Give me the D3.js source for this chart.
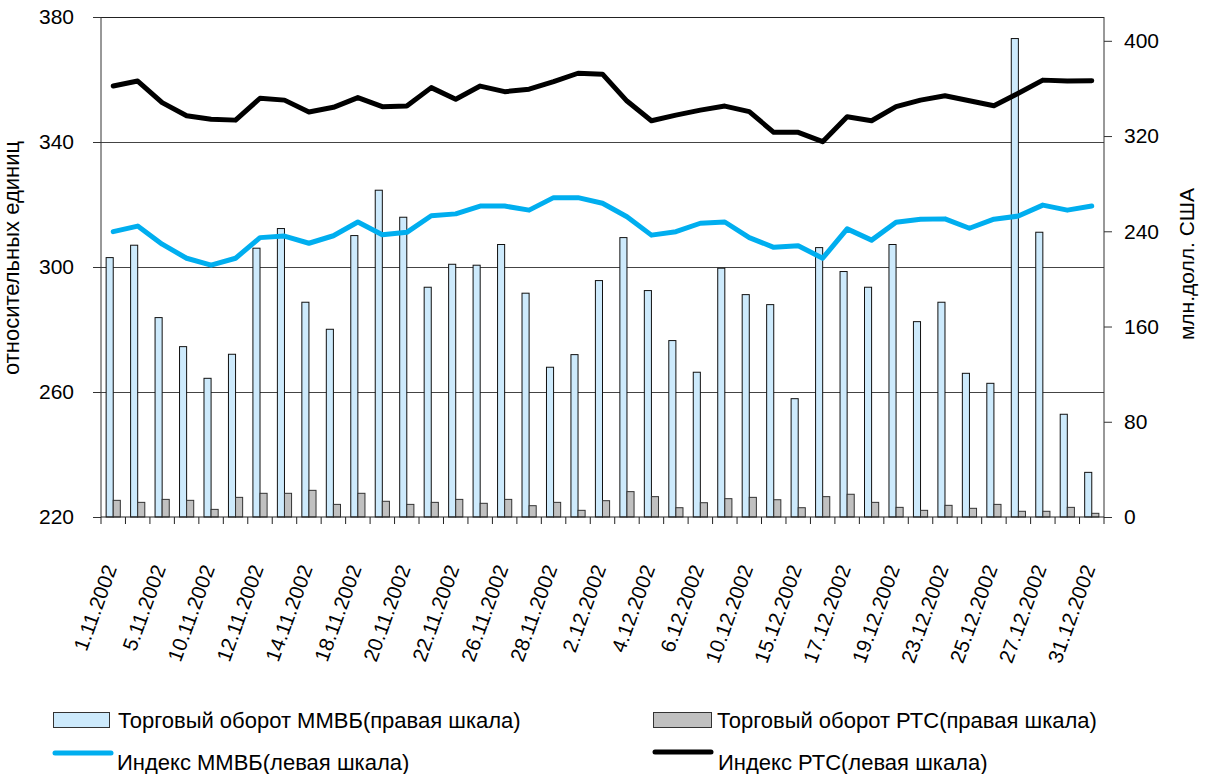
<!DOCTYPE html>
<html>
<head>
<meta charset="utf-8">
<script src="https://cdn.jsdelivr.net/npm/d3@7/dist/d3.min.js"></script>
<style>
  html, body { margin: 0; padding: 0; background: #fff; }
  svg text { font-family: "Liberation Sans", Arial, Helvetica, sans-serif; fill: #000; }
</style>
</head>
<body>
<svg id="chart" width="1205" height="774"></svg>
<script>
const dates = ["1.11.2002","4.11.2002","5.11.2002","6.11.2002","10.11.2002","11.11.2002","12.11.2002","13.11.2002","14.11.2002","15.11.2002",
  "18.11.2002","19.11.2002","20.11.2002","21.11.2002","22.11.2002","25.11.2002","26.11.2002","27.11.2002","28.11.2002","29.11.2002",
  "2.12.2002","3.12.2002","4.12.2002","5.12.2002","6.12.2002","9.12.2002","10.12.2002","11.12.2002","15.12.2002","16.12.2002",
  "17.12.2002","18.12.2002","19.12.2002","20.12.2002","23.12.2002","24.12.2002","25.12.2002","26.12.2002","27.12.2002","30.12.2002","31.12.2002"];

// Trading turnover, mln USD (right scale)
const mmvbTurnover = [217.9,228.3,167.5,143.1,116.5,136.7,225.8,242.3,180.4,157.7,
  236.4,274.5,251.8,193.0,212.3,211.5,228.9,188.0,125.8,136.4,
  198.6,234.7,190.2,148.2,121.6,209.0,186.8,178.4,99.4,226.3,
  206.2,193.0,228.9,164.1,180.4,120.7,112.3,401.9,239.2,86.3,37.5];
const rtsTurnover = [14.0,12.3,14.8,14.0,6.4,16.5,19.9,19.9,22.4,10.6,
  19.9,13.2,10.6,12.3,14.8,11.5,14.8,9.5,12.3,5.6,
  13.7,21.3,17.1,7.8,12.0,15.4,16.5,14.5,7.8,17.1,
  19.1,12.3,8.1,5.6,9.8,7.3,10.6,4.8,4.8,8.1,3.1];

// Indices (left scale)
const mmvbIndex = [311.3,313.1,307.3,302.8,300.6,302.8,309.4,309.9,307.6,310.0,
  314.4,310.3,311.1,316.4,317.0,319.5,319.5,318.2,322.2,322.2,
  320.4,316.1,310.2,311.3,314.0,314.4,309.4,306.3,306.8,302.8,
  312.2,308.6,314.3,315.3,315.4,312.4,315.3,316.3,319.8,318.2,319.5];
const rtsIndex = [357.9,359.5,352.6,348.4,347.3,347.0,354.0,353.4,349.6,351.1,
  354.2,351.3,351.5,357.4,353.7,357.9,356.1,356.9,359.3,362.0,
  361.7,353.1,346.8,348.6,350.2,351.5,349.7,343.1,343.1,340.1,
  348.1,346.8,351.3,353.4,354.8,353.2,351.6,355.6,359.8,359.5,359.6];

const leftTicks = [220,260,300,340,380];
const rightTicks = [0,80,160,240,320,400];
const leftTitle = "относительных единиц";
const rightTitle = "млн.долл. США";
const legendLabels = ["Торговый оборот ММВБ(правая шкала)","Торговый оборот РТС(правая шкала)",
  "Индекс ММВБ(левая шкала)","Индекс РТС(левая шкала)"];

const colMMVBBar = "#cdeafc", colRTSBar = "#c0c0c0", colMMVBLine = "#00aeef", colRTSLine = "#000000";

const svg = d3.select("#chart");
const L = 101, R = 1104, T = 17, B = 517;

const x = d3.scaleBand().domain(dates).range([L, R]).paddingInner(0).paddingOuter(0);
const yL = d3.scaleLinear().domain([220, 380]).range([B, T]);
const yR = d3.scaleLinear().domain([0, 420]).range([B, T]);

// gridlines
svg.append("g").selectAll("line").data(leftTicks.filter(d => d > 220)).join("line")
  .attr("x1", L).attr("x2", R).attr("y1", d => yL(d)).attr("y2", d => yL(d))
  .attr("stroke", d => d === 380 ? "#222" : "#444").attr("stroke-width", 1).attr("shape-rendering", "crispEdges");

// bars
const bw = x.bandwidth() * 0.29;
const gBars = svg.append("g");
gBars.selectAll("rect.m").data(dates).join("rect").attr("class", "m")
  .attr("x", d => x(d) + x.bandwidth() / 2 - bw)
  .attr("y", (d, i) => yR(mmvbTurnover[i]))
  .attr("width", bw).attr("height", (d, i) => B - yR(mmvbTurnover[i]))
  .attr("fill", colMMVBBar).attr("stroke", "#111").attr("stroke-width", 1);
gBars.selectAll("rect.r").data(dates).join("rect").attr("class", "r")
  .attr("x", d => x(d) + x.bandwidth() / 2)
  .attr("y", (d, i) => yR(rtsTurnover[i]))
  .attr("width", bw).attr("height", (d, i) => B - yR(rtsTurnover[i]))
  .attr("fill", colRTSBar).attr("stroke", "#333").attr("stroke-width", 1);

// lines
const cx = d => x(d) + x.bandwidth() / 2;
const lineM = d3.line().x((d, i) => cx(dates[i])).y(d => yL(d));
svg.append("path").datum(mmvbIndex).attr("d", lineM).attr("fill", "none")
  .attr("stroke", colMMVBLine).attr("stroke-width", 5).attr("stroke-linejoin", "round").attr("stroke-linecap", "round");
svg.append("path").datum(rtsIndex).attr("d", lineM).attr("fill", "none")
  .attr("stroke", colRTSLine).attr("stroke-width", 5).attr("stroke-linejoin", "round").attr("stroke-linecap", "round");

// axes
const axL = svg.append("g").attr("transform", `translate(${L},0)`)
  .call(d3.axisLeft(yL).tickValues(leftTicks).tickSize(8).tickPadding(19).tickFormat(d3.format("d")));
const axR = svg.append("g").attr("transform", `translate(${R},0)`)
  .call(d3.axisRight(yR).tickValues(rightTicks).tickSize(8).tickPadding(12).tickFormat(d3.format("d")));
[axL, axR].forEach(a => {
  a.select(".domain").attr("d", `M0,${T}V${B}`).attr("stroke", "#333");
  a.selectAll("text").attr("font-size", 21).attr("font-family", '"Liberation Sans", Arial, sans-serif');
  a.selectAll(".tick line").attr("stroke", "#333");
});
const boundaries = d3.range(dates.length + 1).map(i => L + i * x.bandwidth());
svg.append("line").attr("x1", L).attr("x2", R).attr("y1", B).attr("y2", B).attr("stroke", "#222");
svg.append("g").selectAll("line").data(boundaries).join("line")
  .attr("x1", d => d).attr("x2", d => d).attr("y1", B).attr("y2", B + 7).attr("stroke", "#222");

// x labels (every other)
svg.append("g").selectAll("text").data(dates.filter((d, i) => i % 2 === 0)).join("text")
  .attr("transform", d => `translate(${cx(d) + 4},568) rotate(-70)`)
  .attr("text-anchor", "end").attr("font-size", 20.5).text(d => d);

// axis titles
svg.append("text").attr("transform", "translate(19,258) rotate(-90)").attr("text-anchor", "middle")
  .attr("font-size", 22).text(leftTitle);
svg.append("text").attr("transform", "translate(1194,264) rotate(-90)").attr("text-anchor", "middle")
  .attr("font-size", 21).text(rightTitle);

// legend
const lg = svg.append("g");
lg.append("rect").attr("x", 53.5).attr("y", 712.5).attr("width", 56).attr("height", 15)
  .attr("fill", colMMVBBar).attr("stroke", "#333");
lg.append("text").attr("x", 118).attr("y", 728).attr("font-size", 22).text(legendLabels[0]);
lg.append("rect").attr("x", 653.5).attr("y", 712.5).attr("width", 58).attr("height", 15)
  .attr("fill", colRTSBar).attr("stroke", "#333");
lg.append("text").attr("x", 717).attr("y", 728).attr("font-size", 22).text(legendLabels[1]);
lg.append("line").attr("x1", 55).attr("x2", 111).attr("y1", 753).attr("y2", 753)
  .attr("stroke", colMMVBLine).attr("stroke-width", 5).attr("stroke-linecap", "round");
lg.append("text").attr("x", 117).attr("y", 770).attr("font-size", 22).text(legendLabels[2]);
lg.append("line").attr("x1", 655).attr("x2", 711).attr("y1", 752).attr("y2", 752)
  .attr("stroke", colRTSLine).attr("stroke-width", 5).attr("stroke-linecap", "round");
lg.append("text").attr("x", 718).attr("y", 770).attr("font-size", 22).text(legendLabels[3]);
</script>
</body>
</html>
